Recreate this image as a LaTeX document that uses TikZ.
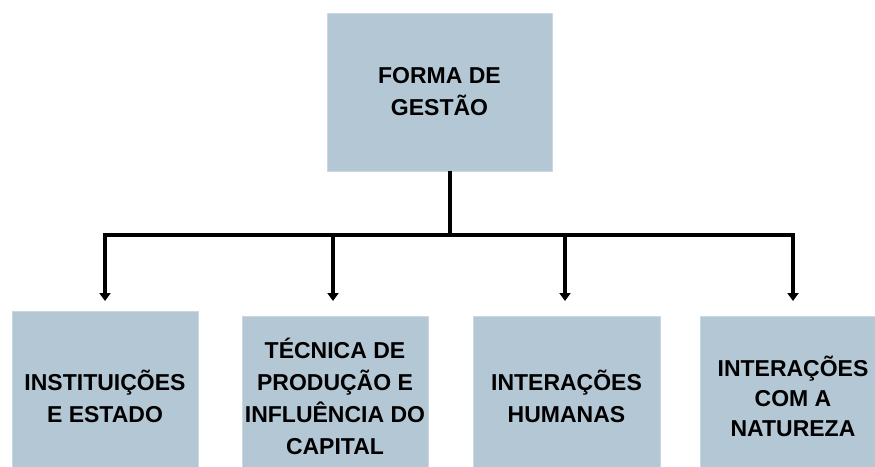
\documentclass[tikz,border=0pt]{standalone}
\usepackage{fontspec}
\setmainfont{Liberation Sans}
\usetikzlibrary{arrows.meta}
\definecolor{boxfill}{HTML}{B4C7D5}
\tikzset{
  box/.style={fill=boxfill, draw=boxfill!70!white, line width=0.6pt, inner sep=0pt,
    align=center, font=\bfseries\fontsize{23}{32}\selectfont, text=black},
  conn/.style={line width=3.2pt, draw=black},
  arr/.style={conn, -{Triangle[width=11pt,length=8pt]}}
}
\begin{document}
\begin{tikzpicture}[x=1pt,y=-1pt]
\useasboundingbox (0,0) rectangle (875,466);
\clip (0,0) rectangle (875,466);
\node[box, minimum width=225pt, minimum height=158pt] (top) at (439.5,92) {FORMA DE\\GESTÃO};
\node[box, minimum width=186pt, minimum height=170pt] (b1) at (105,396) {INSTITUIÇÕES\\E ESTADO};
\node[box, minimum width=186pt, minimum height=160pt] (b2) at (335,396) {TÉCNICA DE\\PRODUÇÃO E\\INFLUÊNCIA DO\\CAPITAL};
\node[box, minimum width=187pt, minimum height=160pt] (b3) at (566.5,396) {INTERAÇÕES\\HUMANAS};
\node[box, minimum width=186pt, minimum height=160pt, font=\bfseries\fontsize{23}{30}\selectfont] (b4) at (793,396) {INTERAÇÕES\\COM A\\NATUREZA};
\coordinate (j) at (450,235);
\coordinate (h1) at (105,235);
\coordinate (h2) at (333,235);
\coordinate (h3) at (565,235);
\coordinate (h4) at (793,235);
\coordinate (t1) at (105,301);
\coordinate (t2) at (333,301);
\coordinate (t3) at (565,301);
\coordinate (t4) at (793,301);
\draw[conn] (top.south -| j) -- (j);
\draw[conn] ([xshift=-1.6pt]h1) -- ([xshift=1.6pt]h4);
\draw[arr] (h1) -- (t1);
\draw[arr] (h2) -- (t2);
\draw[arr] (h3) -- (t3);
\draw[arr] (h4) -- (t4);
\end{tikzpicture}
\end{document}
